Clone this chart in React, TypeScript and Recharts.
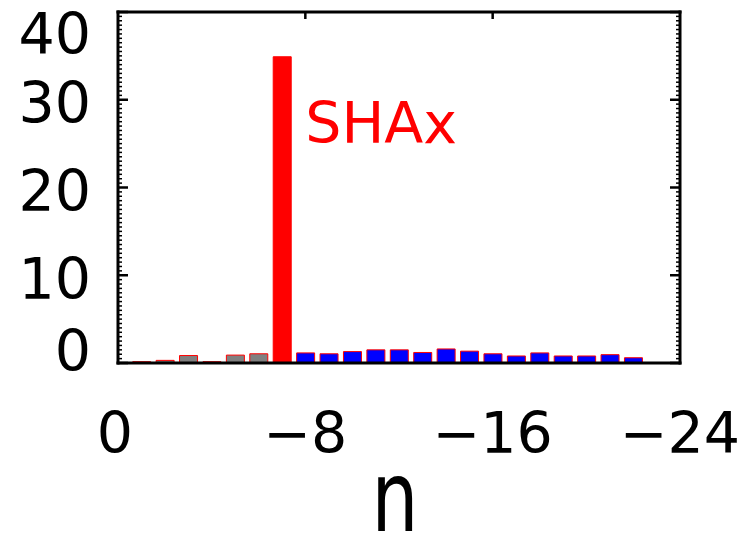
import { BarChart, Bar, XAxis, YAxis, LabelList } from 'recharts';

// harmonic orders n and the counts per order
const orders = [-1, -2, -3, -4, -5, -6, -7, -8, -9, -10, -11, -12, -13, -14, -15, -16, -17, -18, -19, -20, -21, -22];
const lowCounts = [0.15, 0.3, 0.85, 0.15, 0.9, 1.05]; // n = -1 .. -6
const shaxCount = 34.9; // n = -7
const highCounts = [1.15, 1.05, 1.3, 1.5, 1.5, 1.2, 1.6, 1.35, 1.05, 0.8, 1.15, 0.8, 0.8, 0.95, 0.6]; // n = -8 .. -22

const xTicks = [0, -8, -16, -24];
const yTicks = Array.from({ length: 81 }, (_, i) => i * 0.5); // minor every 0.5, labelled every 10

const rows = orders.map((n, i) => ({
  n,
  low: i < lowCounts.length ? lowCounts[i] : undefined,
  shax: i === lowCounts.length ? shaxCount : undefined,
  high: i > lowCounts.length ? highCounts[i - lowCounts.length - 1] : undefined,
}));

const FONT = '"DejaVu Sans", sans-serif';
const frame = { stroke: '#000', strokeWidth: 3, strokeLinecap: 'square' as const };

const isMajor = (v: number) => v % 10 === 0;

// left axis: inward tick marks plus labels on the majors
const LeftTick = ({ x, y, payload }: any) => {
  const v = payload.value;
  const tx = Number(x);
  const ty = Number(y);
  const len = isMajor(v) ? 10 : 4;
  // keep the end labels inside the picture
  const cy = Math.min(Math.max(ty + 3, 33), 350);
  return (
    <g>
      <line x1={tx} x2={tx + len} y1={ty} y2={ty} stroke="#000" strokeWidth={isMajor(v) ? 2.5 : 1.5} />
      {isMajor(v) && (
        <text x={tx - 27} y={cy} dy="0.36em" textAnchor="end" fontSize={57} fontFamily={FONT} fill="#000">
          {v}
        </text>
      )}
    </g>
  );
};

const RightTick = ({ x, y, payload }: any) => {
  const v = payload.value;
  const tx = Number(x);
  const ty = Number(y);
  const len = isMajor(v) ? 10 : 4;
  return <line x1={tx} x2={tx - len} y1={ty} y2={ty} stroke="#000" strokeWidth={isMajor(v) ? 2.5 : 1.5} />;
};

const TopTick = ({ x, y }: any) => (
  <line x1={Number(x)} x2={Number(x)} y1={Number(y)} y2={Number(y) + 7} stroke="#000" strokeWidth={2.5} />
);

const BottomTick = ({ x, y, payload }: any) => {
  const v = payload.value;
  const label = v === 0 ? '0' : `\u2212${Math.abs(v)}`;
  return (
    <text x={Number(x) - (v === 0 ? 3 : 0)} y={Number(y) + 69} dy="0.36em" textAnchor="middle" fontSize={57} fontFamily={FONT} fill="#000">
      {label}
    </text>
  );
};

// axis title, stretched vertically like the original plotting font
const AxisName = ({ viewBox }: any) => (
  <text
    transform={`translate(${viewBox.x + viewBox.width / 2 - 4}, ${viewBox.y + 168}) scale(1, 1.33)`}
    textAnchor="middle"
    fontSize={74}
    fontFamily={FONT}
    fill="#000"
  >
    n
  </text>
);

const ShaxLabel = ({ x, y, width, value }: any) => {
  if (value == null) return null;
  return (
    <text x={Number(x) + Number(width) + 14} y={Number(y) + 86} fontSize={57} fontFamily={FONT} fill="#ff0000">
      SHAx
    </text>
  );
};

export default function App() {
  return (
    <div style={{ position: 'absolute', left: 0, top: 0, background: '#fff' }}>
      <BarChart
        width={747}
        height={535}
        data={rows}
        margin={{ top: 11, right: 66, bottom: 171, left: 117 }}
        barSize={18}
      >
        <XAxis
          xAxisId="bottom"
          dataKey="n"
          type="number"
          domain={[-24, 0]}
          reversed
          allowDataOverflow
          ticks={xTicks}
          interval={0}
          height={1}
          tickSize={0}
          tickMargin={0}
          tickLine={false}
          axisLine={frame}
          tick={<BottomTick />}
          label={{ content: <AxisName /> }}
        />
        <XAxis
          xAxisId="top"
          orientation="top"
          dataKey="n"
          type="number"
          domain={[-24, 0]}
          reversed
          allowDataOverflow
          ticks={[-8, -16]}
          interval={0}
          height={1}
          tickSize={0}
          tickMargin={0}
          tickLine={false}
          axisLine={frame}
          tick={<TopTick />}
        />
        <YAxis
          yAxisId="left"
          type="number"
          domain={[0, 40]}
          allowDataOverflow
          ticks={yTicks}
          interval={0}
          width={1}
          tickSize={0}
          tickMargin={0}
          tickLine={false}
          axisLine={frame}
          tick={<LeftTick />}
        />
        <YAxis
          yAxisId="right"
          orientation="right"
          type="number"
          domain={[0, 40]}
          allowDataOverflow
          ticks={yTicks}
          interval={0}
          width={1}
          tickSize={0}
          tickMargin={0}
          tickLine={false}
          axisLine={frame}
          tick={<RightTick />}
        />
        <Bar xAxisId="bottom" yAxisId="left" dataKey="low" stackId="n" fill="#808080" stroke="#ff0000" strokeWidth={1} isAnimationActive={false} />
        <Bar xAxisId="bottom" yAxisId="left" dataKey="shax" stackId="n" fill="#ff0000" stroke="#ff0000" strokeWidth={1} isAnimationActive={false}>
          <LabelList dataKey="shax" content={<ShaxLabel />} />
        </Bar>
        <Bar xAxisId="bottom" yAxisId="left" dataKey="high" stackId="n" fill="#0000ff" stroke="#ff0000" strokeWidth={1} isAnimationActive={false} />
      </BarChart>
    </div>
  );
}
